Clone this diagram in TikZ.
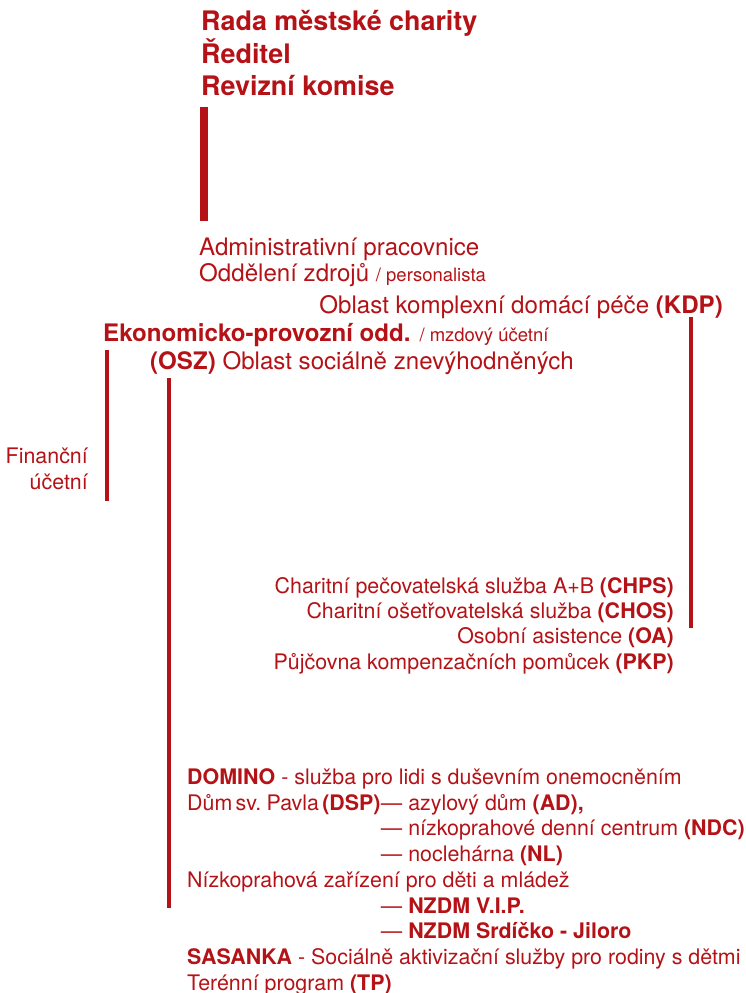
\documentclass[tikz,border=0pt]{standalone}
\usepackage{fontspec}
\setmainfont{TeX Gyre Heros}
\definecolor{charred}{RGB}{180,18,22}

\begin{document}
\begin{tikzpicture}[x=1pt,y=-1pt,
  every node/.style={inner sep=0pt,text=charred},
  title/.style={anchor=base west,font=\fontsize{26.9}{30}\selectfont\bfseries},
  upper/.style={font=\fontsize{24.1}{28}\selectfont},
  lower/.style={font=\fontsize{21.4}{25.7}\selectfont},
  bar/.style={fill=charred}]

\useasboundingbox (0,0) rectangle (745,993);

\node[title] (rada) at (201,30) {Rada městské charity};
\node[title] (reditel) at (201,63) {Ředitel};
\node[title] (revize) at (201,95) {Revizní komise};

\fill[bar] (200,107) rectangle (208,221);

\node[upper,anchor=base west] (admin) at (199,255) {Administrativní pracovnice};
\node[upper,anchor=base west] (zdroje) at (199,281) {Oddělení zdrojů {\fontsize{18.5}{20}\selectfont / personalista}};
\node[upper,anchor=base east] (kdp) at (723,313) {Oblast komplexní domácí péče \textbf{(KDP)}};
\node[upper,anchor=base west] (ekon) at (103,341) {\textbf{Ekonomicko-provozní odd.} {\fontsize{18.5}{20}\selectfont / mzdový účetní}};
\node[upper,anchor=base west] (osz) at (150,369) {\textbf{(OSZ)} Oblast sociálně znevýhodněných};

\fill[bar] (689,317) rectangle (693,628);
\fill[bar] (105,350) rectangle (109,501);
\fill[bar] (167,378) rectangle (171,908);

\node[lower,anchor=base east,align=right] (financni) at (88,489) {Finanční\\účetní};

\node[lower,anchor=base east] (chps) at (674,593) {Charitní pečovatelská služba A+B \textbf{(CHPS)}};
\node[lower,anchor=base east] (chos) at (674,618) {Charitní ošetřovatelská služba \textbf{(CHOS)}};
\node[lower,anchor=base east] (oa) at (674,643) {Osobní asistence \textbf{(OA)}};
\node[lower,anchor=base east] (pkp) at (674,669) {Půjčovna kompenzačních pomůcek \textbf{(PKP)}};

\node[lower,anchor=base west] (domino) at (187,784) {\textbf{DOMINO} - služba pro lidi s duševním onemocněním};
\node[lower,anchor=base west] (dsp) at (187,810) {\spaceskip=0.15em Dům sv. Pavla \textbf{(DSP)}};
\node[lower,anchor=base west] (ad) at (dsp.base east) {— azylový dům \textbf{(AD),}};
\node[lower,anchor=base west] (ndc) at (ad.west |- 0,835) {— nízkoprahové denní centrum \textbf{(NDC)}};
\node[lower,anchor=base west] (nl) at (ad.west |- 0,861) {— noclehárna \textbf{(NL)}};
\node[lower,anchor=base west] (nzdm) at (187,887) {Nízkoprahová zařízení pro děti a mládež};
\node[lower,anchor=base west] (vip) at (ad.west |- 0,913) {— \textbf{NZDM V.I.P.}};
\node[lower,anchor=base west] (srdicko) at (ad.west |- 0,938) {— \textbf{NZDM Srdíčko - Jiloro}};
\node[lower,anchor=base west] (sasanka) at (187,964) {\textbf{SASANKA} - Sociálně aktivizační služby pro rodiny s dětmi};
\node[lower,anchor=base west] (tp) at (187,990) {Terénní program \textbf{(TP)}};
\end{tikzpicture}
\end{document}
